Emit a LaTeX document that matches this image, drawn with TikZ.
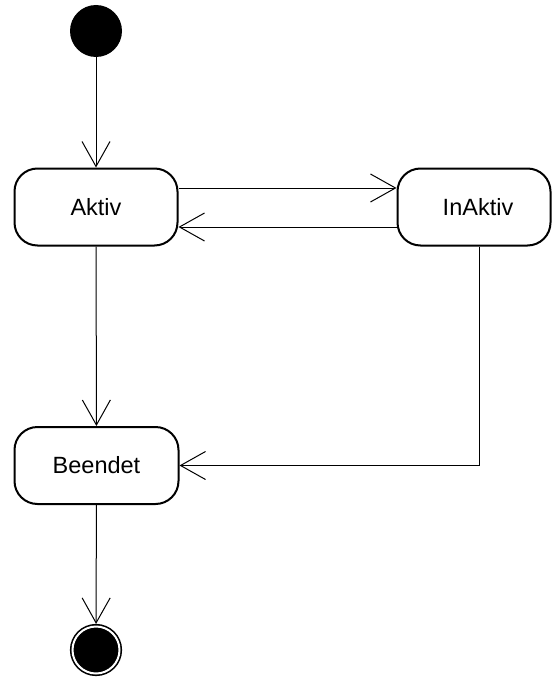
\documentclass[tikz,border=0pt]{standalone}
\usepackage{fontspec}
\setmainfont{Liberation Sans}
\usetikzlibrary{arrows.meta}
\begin{document}
\begin{tikzpicture}[x=1pt, y=-1pt,
  state/.style={draw=black, line width=2pt, rounded corners=23pt, fill=white,
    minimum width=163pt, minimum height=77pt, inner sep=0pt, outer sep=1pt,
    font=\fontsize{23.5pt}{28pt}\selectfont},
  initial/.style={circle, fill=black, minimum size=52pt, inner sep=0pt, outer sep=0pt},
  final/.style={circle, fill=black, draw=black, line width=1.6pt, double=white,
    double distance=2pt, minimum size=47pt, inner sep=0pt, outer sep=2.6pt},
  conn/.style={draw=black, line width=1pt,
    -{Straight Barb[length=25pt, width=28pt, line width=1pt]}}]
  \useasboundingbox (0,0) rectangle (552,677);

  % states
  \node[initial] (start) at (96,31) {};
  \node[state] (akt) at (96,207) {Aktiv};
  \node[state, minimum width=153pt] (ina) at (474,207) {\hspace*{8pt}InAktiv};
  \node[state, minimum width=164pt] (bee) at (96.5,465.5) {Beendet};
  \node[final] (fin) at (96,650) {};

  % transitions
  \draw[conn] (start) -- (akt);
  \draw[conn] ([yshift=19pt]akt.east) -- ([yshift=19pt]ina.west);
  \draw[conn] ([yshift=-20pt]ina.west) -- ([yshift=-20pt]akt.east);
  \draw[conn] (akt) -- (bee);
  \draw[conn] ([xshift=5pt]ina.south) |- (bee.east);
  \draw[conn] (bee) -- (fin);
\end{tikzpicture}
\end{document}
